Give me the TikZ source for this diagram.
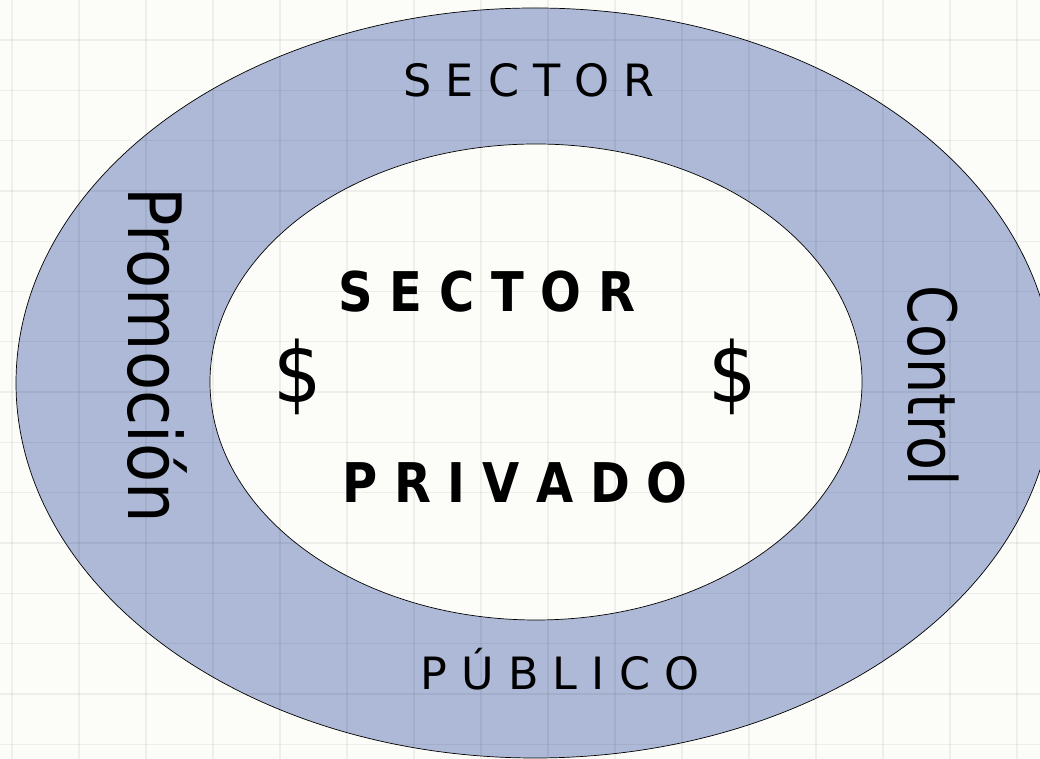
\documentclass[tikz,border=0pt]{standalone}
\usepackage{fontspec}
\setmainfont{DejaVu Sans}
\definecolor{ringblue}{HTML}{ADB9D6}
\definecolor{paper}{HTML}{FCFCF8}
\tikzset{ring/.style = {draw=black, line width=0.7pt},
         gridline/.style = {draw=black, opacity=0.055, line width=1.3pt},
         thinlabel/.style = {anchor=base, font=\fontsize{44.5}{50}\selectfont},
         boldlabel/.style = {anchor=base, yscale=1.14, font=\fontsize{48}{54}\bfseries\selectfont},
         dollar/.style = {anchor=base, yscale=1.1, font=\fontsize{76}{80}\selectfont},
         sidelabel/.style = {xscale=#1, rotate=-90, anchor=base}}

\begin{document}
\begin{tikzpicture}[x=1pt, y=1pt]
  \useasboundingbox (0,0) rectangle (1040,759);
  \fill[paper] (0,0) rectangle (1040,759);
  % rings
  \draw[ring, fill=ringblue] (535,376) ellipse [x radius=519, y radius=375];
  \draw[ring, fill=paper] (536,377) ellipse [x radius=326, y radius=238];
  % grid
  \foreach \gx in {0,...,15}
    \draw[gridline] ({12+67*\gx},0) -- ({12+67*\gx},759);
  \foreach \gy in {0,...,14}
    \draw[gridline] (0,{719-50.3*\gy}) -- (1040,{719-50.3*\gy});
  % labels
  \node[thinlabel] (sectortop) at (529,662) {S E C T O R};
  \node[thinlabel] (publico) at (560,69) {P Ú B L I C O};
  \node[boldlabel] (sectorin) at (487,447) {S E C T O R};
  \node[boldlabel] (privado) at (515,256) {P R I V A D O};
  \node[dollar] (dolarleft) at (298,356) {\$};
  \node[dollar] (dolarright) at (733,356) {\$};
  \node[sidelabel=1.15, font=\fontsize{64}{70}\selectfont] (promocion) at (128,404) {Promoción};
  \node[sidelabel=1.2, font=\fontsize{55.5}{60}\selectfont] (control) at (908,373) {Control};
\end{tikzpicture}
\end{document}
